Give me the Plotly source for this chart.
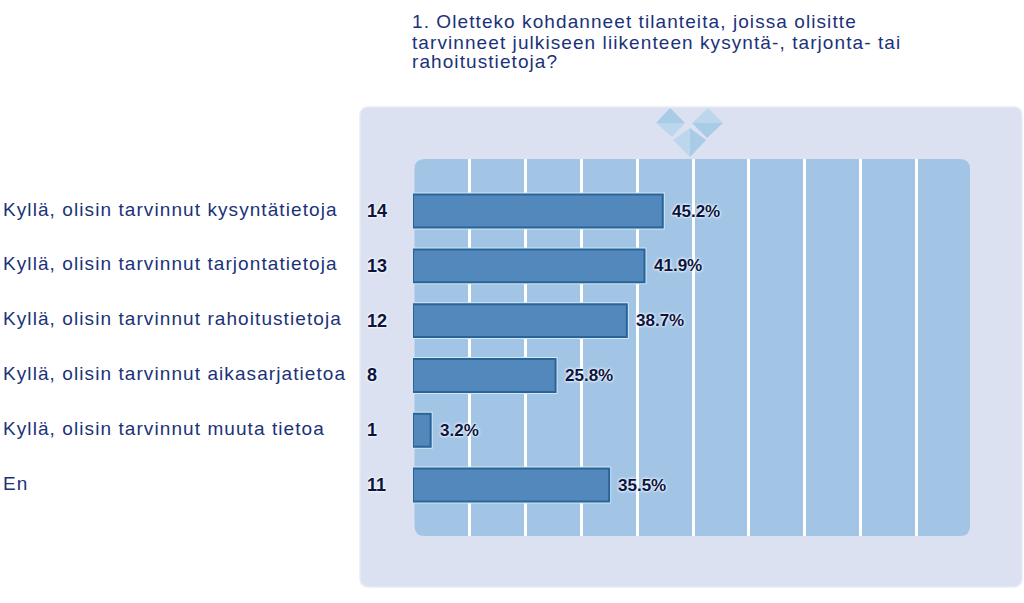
import plotly.graph_objects as go

W, H = 1024, 603

title_lines = [
    "1. Oletteko kohdanneet tilanteita, joissa olisitte",
    "tarvinneet julkiseen liikenteen kysyntä-, tarjonta- tai",
    "rahoitustietoja?",
]
categories = [
    "Kyllä, olisin tarvinnut kysyntätietoja",
    "Kyllä, olisin tarvinnut tarjontatietoja",
    "Kyllä, olisin tarvinnut rahoitustietoja",
    "Kyllä, olisin tarvinnut aikasarjatietoa",
    "Kyllä, olisin tarvinnut muuta tietoa",
    "En",
]
counts = [14, 13, 12, 8, 1, 11]
percents = [45.2, 41.9, 38.7, 25.8, 3.2, 35.5]
# the white rails in the source don't sit exactly on round percents
grid_ticks = [10.3, 20.4, 30.5, 40.6, 50.7, 60.8, 70.9, 81.0, 91.1]

# plot area in pixels
L, R, T, B = 413, 970, 159, 536
TEXT = "#1b3278"
DARK = "#0b1440"
GLOW = "0 0 3px #ffffff, 0 0 3px #ffffff"
FONT = "Liberation Sans, Arial, sans-serif"


def px(x):
    return (x - L) / (R - L)


def py(y):
    return (B - y) / (B - T)


def rounded(x0, y0, x1, y1, r):
    return (
        f"M {px(x0 + r)} {py(y0)} L {px(x1 - r)} {py(y0)} Q {px(x1)} {py(y0)} {px(x1)} {py(y0 + r)} "
        f"L {px(x1)} {py(y1 - r)} Q {px(x1)} {py(y1)} {px(x1 - r)} {py(y1)} "
        f"L {px(x0 + r)} {py(y1)} Q {px(x0)} {py(y1)} {px(x0)} {py(y1 - r)} "
        f"L {px(x0)} {py(y0 + r)} Q {px(x0)} {py(y0)} {px(x0 + r)} {py(y0)} Z"
    )


def poly(points, color):
    d = "M " + " L ".join(f"{px(x)} {py(y)}" for x, y in points) + " Z"
    return dict(type="path", xref="paper", yref="paper", path=d, fillcolor=color,
                line=dict(width=0), layer="below")


shapes = [
    dict(type="path", xref="paper", yref="paper", path=rounded(360, 107, 1022, 587, 9),
         fillcolor="#dbe1f0", line=dict(color="#e6ebf5", width=1.5), layer="below"),
    dict(type="path", xref="paper", yref="paper", path=rounded(414.5, 159, 970, 536, 10),
         fillcolor="#a2c5e6", line=dict(width=0), layer="below"),
    # logo diamonds above the rail
    poly([(656, 123), (670, 108), (685, 123)], "#a8cbe6"),
    poly([(656, 123), (685, 123), (672, 137)], "#bcd6ec"),
    poly([(692, 123), (708, 108), (723, 123)], "#bcd6ec"),
    poly([(692, 123), (723, 123), (707, 138)], "#a8cbe6"),
    poly([(690, 128), (673, 140), (690, 157)], "#bcd6ec"),
    poly([(690, 128), (706, 140), (690, 157)], "#a8cbe6"),
]

fig = go.Figure()
# light halo under the bars
fig.add_trace(go.Bar(
    x=percents, y=categories, orientation="h", width=0.6,
    marker=dict(color="#cfe7f8", line=dict(color="#cfe7f8", width=4)),
    hoverinfo="skip", showlegend=False,
))
fig.add_trace(go.Bar(
    x=percents, y=categories, orientation="h", width=0.6,
    marker=dict(color="#5388bc", line=dict(color="#2a6496", width=2)),
    showlegend=False,
))

annotations = []
for i, line in enumerate(title_lines):
    annotations.append(dict(
        text=line, xref="paper", yref="paper", x=px(410), y=py([21, 42, 62][i]),
        xanchor="left", yanchor="middle", align="left", showarrow=False,
        font=dict(family=FONT, size=19, color=TEXT),
    ))
for cat, n, p in zip(categories, counts, percents):
    annotations.append(dict(
        text=cat, xref="paper", yref="y", x=px(1), y=cat, yshift=2,
        xanchor="left", yanchor="middle", align="left", showarrow=False,
        font=dict(family=FONT, size=19, color=TEXT),
    ))
    annotations.append(dict(
        text=f"<b>{n}</b>", xref="paper", yref="y", x=px(365), y=cat,
        xanchor="left", yanchor="middle", showarrow=False,
        font=dict(family=FONT, size=18, color=DARK, shadow=GLOW),
    ))
    annotations.append(dict(
        text=f"<b>{p}%</b>", xref="x", yref="y", x=p, y=cat, xshift=7,
        xanchor="left", yanchor="middle", showarrow=False,
        font=dict(family=FONT, size=17, color=DARK, shadow=GLOW),
    ))

fig.update_layout(
    width=W, height=H,
    margin=dict(l=L, r=W - R, t=T, b=H - B, pad=0),
    paper_bgcolor="white", plot_bgcolor="rgba(0,0,0,0)",
    barmode="overlay",
    shapes=shapes, annotations=annotations,
    xaxis=dict(range=[0, 100.8], tickvals=grid_ticks, showticklabels=False, ticks="",
               showgrid=True, gridcolor="white", gridwidth=2.5, zeroline=False, showline=False),
    yaxis=dict(categoryorder="array", categoryarray=categories, range=[5.93, -0.95],
               showticklabels=False, ticks="", showgrid=False, zeroline=False, showline=False),
)

# source text is set wide: stretch the title and the category labels
spacing_js = """
document.body.style.margin = '0';
document.querySelectorAll('.annotation').forEach(function (a) {
    var i = +a.getAttribute('data-index');
    if (i < 3 || (i - 3) % 3 === 0) {
        a.querySelector('text').style.letterSpacing = '1.08px';
    }
});
"""
fig.write_html("out.html", config=dict(displayModeBar=False), post_script=spacing_js)
